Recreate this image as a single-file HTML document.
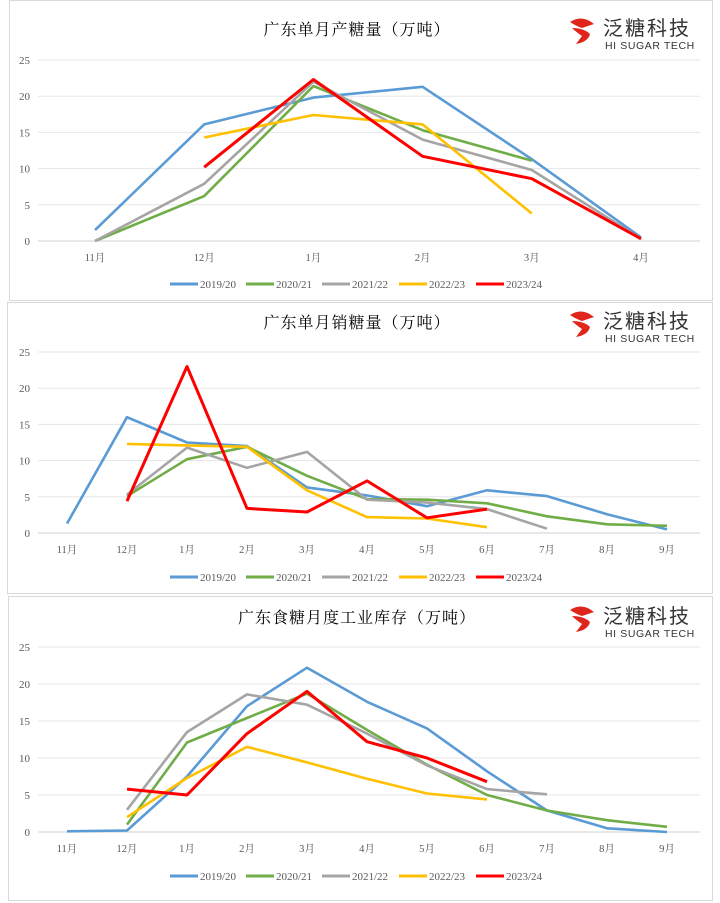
<!DOCTYPE html>
<html><head><meta charset="utf-8">
<style>
html,body{margin:0;padding:0;background:#fff;width:720px;height:903px;overflow:hidden}
svg{display:block}
text{font-family:"Liberation Serif","Noto Serif CJK SC",serif}
</style></head>
<body>
<svg id="s" width="720" height="903" xmlns="http://www.w3.org/2000/svg"></svg>
<script>
const C={b:'#5b9bd5',g:'#70ad47',a:'#a5a5a5',y:'#ffc000',r:'#ff0000'};
const N=null;
const panels=[
 {box:[9,0,703,300],title:'广东单月产糖量（万吨）',ty:30,y0:241,y25:60,x0:95,dx:109.2,
  cats:['11月','12月','1月','2月','3月','4月'],leg:284,
  s:[['b',[1.5,16.1,19.8,21.3,11.3,0.5]],['g',[0,6.2,21.4,15.3,11.1,N]],['a',[0,7.9,22,14,9.8,0.3]],
     ['y',[N,14.3,17.4,16.1,3.8,N]],['r',[N,10.2,22.3,11.7,8.6,0.3]]]},
 {box:[7,302,705,291],title:'广东单月销糖量（万吨）',ty:323,y0:533,y25:352,x0:67,dx:60,
  cats:['11月','12月','1月','2月','3月','4月','5月','6月','7月','8月','9月'],leg:577,
  s:[['b',[1.3,16,12.5,12,6.3,5.2,3.7,5.9,5.1,2.6,0.5]],['g',[N,5.1,10.2,11.9,7.9,4.7,4.6,4.1,2.3,1.2,1.0]],
     ['a',[N,5.3,11.8,9,11.2,4.6,4.2,3.3,0.6,N,N]],['y',[N,12.3,12.1,11.9,5.9,2.2,2.0,0.8,N,N,N]],
     ['r',[N,4.4,23,3.4,2.9,7.2,2.1,3.3,N,N,N]]]},
 {box:[8,596,704,304],title:'广东食糖月度工业库存（万吨）',ty:618,y0:832,y25:647,x0:67,dx:60,
  cats:['11月','12月','1月','2月','3月','4月','5月','6月','7月','8月','9月'],leg:876,
  s:[['b',[0.1,0.2,7.5,17,22.2,17.6,14,8.2,2.9,0.5,0]],['g',[N,1,12.1,15.4,18.7,13.8,9.1,5,2.9,1.6,0.7]],
     ['a',[N,3,13.5,18.6,17.2,13.3,9,5.8,5.1,N,N]],['y',[N,2,7.3,11.5,9.4,7.2,5.2,4.4,N,N,N]],
     ['r',[N,5.8,5,13.3,19,12.2,10,6.8,N,N,N]]]}
];
let h='';
const names=['2019/20','2020/21','2021/22','2022/23','2023/24'];
panels.forEach(p=>{
 const [bx,by,bw,bh]=p.box;
 h+=`<rect x="${bx+.5}" y="${by+.5}" width="${bw}" height="${bh}" fill="#fff" stroke="#d9d9d9"/>`;
 h+=`<text x="357" y="${p.ty+5}" text-anchor="middle" font-size="16" fill="#000" letter-spacing="1">${p.title}</text>`;
 // logo
 const ly=p.ty;
 h+=`<g transform="translate(568,${ly-12})"><path d="M2 4 Q14 -4 26 6 L14 10 Q8 8 2 4Z" fill="#e0261b"/><path d="M4 10 Q16 10 22 16 Q20 24 8 26 L14 18 Q8 14 4 10Z" fill="#e0261b"/></g>`;
 h+=`<text x="603" y="${ly+5}" font-size="20" fill="#333" style="font-family:'Noto Sans CJK SC',sans-serif" letter-spacing="2">泛糖科技</text>`;
 h+=`<text x="605" y="${ly+19}" font-size="10.5" fill="#333" style="font-family:'Liberation Sans',sans-serif" letter-spacing="0.6">HI SUGAR TECH</text>`;
 const u=(p.y0-p.y25)/25;
 for(let v=0;v<=25;v+=5){const y=p.y0-v*u;
  h+=`<line x1="38" x2="700" y1="${y}" y2="${y}" stroke="${v?'#e6e6e6':'#d0d0d0'}"/>`;
  h+=`<text x="30" y="${y+4}" text-anchor="end" font-size="11" fill="#595959">${v}</text>`;}
 p.cats.forEach((c,i)=>h+=`<text x="${p.x0+i*p.dx}" y="${p.y0+20}" text-anchor="middle" font-size="10.5" fill="#595959">${c}</text>`);
 p.s.forEach(([k,d])=>{let pts=[];d.forEach((v,i)=>{if(v!==N)pts.push((p.x0+i*p.dx).toFixed(1)+','+(p.y0-v*u).toFixed(1))});
  h+=`<polyline points="${pts.join(' ')}" fill="none" stroke="${C[k]}" stroke-width="${k=='r'?3:2.6}" stroke-linejoin="round"/>`;});
 const lx=[170,246,322,399,476];
 ['b','g','a','y','r'].forEach((k,i)=>{
  h+=`<line x1="${lx[i]}" x2="${lx[i]+28}" y1="${p.leg}" y2="${p.leg}" stroke="${C[k]}" stroke-width="3"/>`;
  h+=`<text x="${lx[i]+30}" y="${p.leg+4}" font-size="11" fill="#595959">${names[i]}</text>`;});
});
document.getElementById('s').innerHTML=h;
</script>
</body></html>
